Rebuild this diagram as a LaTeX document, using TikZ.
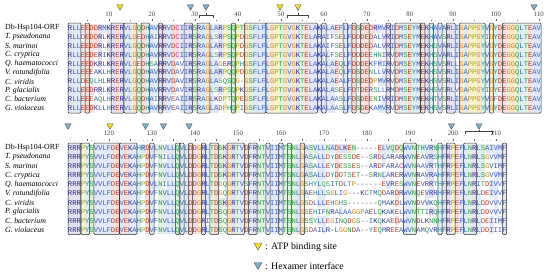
\documentclass[tikz,border=0pt]{standalone}
\usepackage{fontspec}
\setmainfont{Liberation Serif}
\newfontfamily\resfont{Liberation Mono}
\definecolor{tHyd}{HTML}{3F5FBF}\definecolor{bHyd}{HTML}{E0EAF8}
\definecolor{tPos}{HTML}{2E2A8E}\definecolor{bPos}{HTML}{E3E2F5}
\definecolor{tNeg}{HTML}{B83A22}\definecolor{bNeg}{HTML}{F8E0DC}
\definecolor{tGly}{HTML}{D98A1C}\definecolor{bGly}{HTML}{FBEACB}
\definecolor{tPro}{HTML}{A99C10}\definecolor{bPro}{HTML}{F7F4CC}
\definecolor{tPol}{HTML}{2F9B45}\definecolor{bPol}{HTML}{E1F4E0}
\definecolor{tAro}{HTML}{1E8E95}\definecolor{bAro}{HTML}{DAF2F2}
\definecolor{tCys}{HTML}{C8408A}\definecolor{bCys}{HTML}{F8DFEC}
\definecolor{tGap}{HTML}{666666}\definecolor{bGap}{HTML}{FFFFFF}
\definecolor{atpyel}{HTML}{F2E11C}
\definecolor{hexcyan}{HTML}{7DAFC9}
\makeatletter
\@namedef{grp@A}{Hyd}\@namedef{grp@V}{Hyd}\@namedef{grp@L}{Hyd}\@namedef{grp@I}{Hyd}
\@namedef{grp@M}{Hyd}\@namedef{grp@F}{Hyd}\@namedef{grp@W}{Hyd}\@namedef{grp@C}{Cys}
\@namedef{grp@K}{Pos}\@namedef{grp@R}{Pos}
\@namedef{grp@D}{Neg}\@namedef{grp@E}{Neg}
\@namedef{grp@G}{Gly}\@namedef{grp@P}{Pro}
\@namedef{grp@S}{Pol}\@namedef{grp@T}{Pol}\@namedef{grp@N}{Pol}\@namedef{grp@Q}{Pol}
\@namedef{grp@H}{Aro}\@namedef{grp@Y}{Aro}
\@namedef{grp@-}{Gap}
\newcount\colc
\def\gap@ch{-}
\def\drawseq#1#2#3#4{\colc=#1\relax\def\cur@start{#1}\def\cur@y{#2}\def\cur@row{#3}\drawseq@i#4\relax}
\def\drawseq@i#1{\ifx\relax#1\else\placeres{#1}\advance\colc by 1\relax\expandafter\drawseq@i\fi}
\def\placeres#1{%
  \pgfmathsetmacro\rx{68+(\the\colc-\cur@start+0.5)*4.3}%
  \edef\rg{\csname grp@#1\endcsname}%
  \ifnum\cur@row=1\relax\expandafter\xdef\csname ref@\the\colc\endcsname{#1}\fi
  \def\tmp@ch{#1}%
  \expandafter\ifx\csname ref@\the\colc\endcsname\tmp@ch
    \ifx\tmp@ch\gap@ch\else
      \fill[b\rg] (\rx-2.2,\cur@y-4.5) rectangle (\rx+2.2,\cur@y+4.5);%
    \fi
  \fi
  \node[res,text=t\rg] (r\cur@row-\the\colc) at (\rx,\cur@y) {#1};%
}
\makeatother
\newcommand\marktri[3]{\draw[trist,fill=#3] (#1-3.2,#2-2.8) -- (#1+3.2,#2-2.8) -- (#1,#2+2.8) -- cycle;}
\newcommand\markbrk[4]{\draw[brk] (#1-#2,#3+2.6) -- (#1-#2,#3) -- (#1+#2,#3) -- (#1+#2,#3+2.6); \draw[brk] (#1,#3) -- (#1,#4);}
\begin{document}
\begin{tikzpicture}[x=1pt,y=-1pt]
\useasboundingbox (0,0) rectangle (550,276);
\tikzset{
 res/.style={inner sep=0pt, text height=4.9pt, text depth=0pt, anchor=center, font=\resfont\fontsize{7.2}{7.2}\selectfont},
 namest/.style={anchor=west, inner sep=0pt, font=\fontsize{7.8}{8}\selectfont},
 numst/.style={inner sep=0pt, font=\fontsize{6.8}{7}\selectfont, text=black!75},
 consbox/.style={draw=black!85, line width=0.5pt, rounded corners=1.1pt},
 rulerst/.style={draw=black!60, line width=0.35pt},
 trist/.style={draw=black!65, line width=0.4pt, line join=round},
 brk/.style={draw=black!75, line width=0.45pt},
 legst/.style={anchor=west, inner sep=0pt, font=\fontsize{9.8}{10}\selectfont},
}
% ---------------- block 1 ----------------
\drawseq{1}{28}{1}{RLLEEDDRMK RERVLGQDHA VRRVDCIIRS RAGLARPSQP TGSFLFLGPT GVGKTELAKA LAEFLFDSDE DRMVRIDMSE YMEKHAVARL IGAPPGYVGY DEGGQLTEAV}
\drawseq{1}{36.9}{2}{RLLDEDDRLK RERVLGEDHA IRRVDCIIRS RAGLSRPSQP DGSFLFLGPT GVGKTELARA IFSELFDDDE DALVRIDMSE YMEKHAVSRL IGAPPGYIGY DEGGQLTEAV}
\drawseq{1}{45.8}{3}{RLLEEDDRLK RERVLGQDHA VRRVDCIIRS RAGLARPSQP DGSFLFLGPT GVGKTELAKA IFSELFDDDE DALVRIDMSE YMEKHSVARL IGAPPGYVGY DEGGQLTEAV}
\drawseq{1}{54.7}{4}{RLLEEDERIK RERVLGQDHA VRRVDCIIRS RAGLSRPSQP DGSFLFLGPT GVGKTELAKA LFSELFDDDE EHNIRVDMSE YMEKHSVARL IGAPPGYVGY DEGGQLTEAV}
\drawseq{1}{63.6}{5}{RLLEEDKRLK RERVLGEDHS ARRVDAVIRS RAGLAGERQP HGSFLFLGPT GVGKTELAKA LAEQLFDDDE KFMIRVDMSE YMEKHSVSRL LGAPPGYVGY DEGGQLTEAV}
\drawseq{1}{72.5}{6}{RLLEEEAKLH RERVLGQDHA VRRVDAVIRS RAGLARPQQP DGSFLFLGPT GVGKTELAKA LAEQLFDSDE NLLVRVDMSE YMEKHSVSRL IGAPPGYVGY DEGGQLTEAV}
\drawseq{1}{81.4}{7}{RLLDEQLHLR RERVLGQDHA VRRVDAVIRS RAGLASQSQG -GSFLFLGPT GVGKTELAKA LAEALFDSDE DPMVRVDMSE YMEKHSVSRL IGAPPGYVGY DEGGQLTEAV}
\drawseq{1}{90.3}{8}{RLLEEDRRLK RERVLGQDHA VRRVDAVIRS RAGLSRPSQP KGSFLFLGPT GVGKTELAKA LASELFDTDE RSLLRMDMSE YMEKHSVSRL VGAPPGYIGY EEGGQLTEAV}
\drawseq{1}{99.2}{9}{RLLEEEAQLH RERVLGQDHA IRRVEAIIRS RAGLKDPTQP EGSFLFLGPT GVGKTELAKA LAASLFDSDE ENIVRIDMSE YMEKHTVSRL IGAPPGYVGF DEGGQLTEAV}
\drawseq{1}{108.1}{10}{RLLEEDKLLH RERVLGQDHA VRRVEAIIRS RAGLADPHQP IGSFLFLGPT GVGKTELAKA LAASLFDSDE KAMVRVDMSE YMEKHSVSRL IGAPPGYVGY DEGGQLTEAV}
% ---------------- block 2 ----------------
\drawseq{111}{148}{1}{RRRPYSVVLF DEVEKAHRDV LNVLLQVLDD GRLTDSKGRT VDFRNTVIIM TSNLGASVLL NADLKEN--- --ELVQDQWV NTHVRNHFRP EFLNRLSAIV MF}
\drawseq{111}{157.1}{2}{RRRPYSVVLF DEVEKAHPDV FNILLQVLDD GRLTDSKGRT VDFRNTVIIM TSNLGASALL DYDESSDE-- SRDLARARWV NEAVRSHFRP EFLNRLSGVV MF}
\drawseq{111}{166.2}{3}{RRRPYSVVLF DEVEKAHPDV FNVLLQVLDD GRLTDSKGRT VDFRNTVIIM TSNLGASALL EYDESSES-- ARDFARACWV NAAVRTHFRP EFLNRLSGVI MF}
\drawseq{111}{175.3}{4}{RRRPYSVVLF DEVEKAHPDV FNVLLQVLDD GRLTDSKGRT VDFRNTVIIM TSNLGASALL DYDDTSET-- SRNLARERWV NRAVRAHFRP EFLNRLSGVV MF}
\drawseq{111}{184.4}{5}{RRRPYSVVLF DEVEKAHPDV LNILLQVLDD GRLTDGQGRT VSFRNTVIIM TSNLGSHYLQ SITDLTP--- ---EVRESWV NEVRRTHFRP EFLNRITDIV VF}
\drawseq{111}{193.5}{6}{RRRPYSVVLF DEVEKAHPDV FNVLLQVLDD GRLTDGQGRT VDFRNTVIIM TSNLGAEHLL SGLIG---KC TMQDARDRWV NQEVRRHFRP EFLNRLDEIV VF}
\drawseq{111}{202.6}{7}{RRRPYSVVLF DEVEKAHPDV FNVLLQVLDD GRLTDSKGRT VDFRNTVIIM TSNLGSDLLL EHGHS----- --QMAKDLWV NDVVKQHFRP EFLNRLDDVV VF}
\drawseq{111}{211.7}{8}{RRRPYSVVLF DEVEKAHPDV FNVLLQVLDD GRLTDSQGRT VDFRNTVIIM TSNLGSEHIF NRALAAGGPA ELQKAKELWV NTTIRQHFRP EFLNRLDDVV VF}
\drawseq{111}{220.8}{9}{RRRPYSVVLF DEVEKAHPDV FNVLLQVLDD GRITDSQGRT VDFRNTVIIM TSNLGSSYLL EGINQDGS-- IKQKAEDAWV NDLKNNHFRP EFLNRLDEII MF}
\drawseq{111}{229.9}{10}{RRRPYSVVLF DEVEKAHPDV FNVLLQVLDD GRLTDSQGRT VDFRNTVIIM TSNLGSDAIL R-LGGNDA-- YEQMREEAWV NAMQVRHFRP EFLNRLDDII IF}
% ---------------- conservation boxes ----------------
\foreach \a/\b in {1/3,5/5,11/13,14/16,18/19,22/22,28/29,31/33,39/39,42/46,47/58,60/60,65/65,67/67,69/70,75/75,77/82,83/83,85/85,87/87,89/90,92/97,99/99,102/110}
  \draw[consbox] ({68+(\a-1)*4.3},23) rectangle ({68+\b*4.3},113);
\foreach \a/\b in {111/113,114/115,117/122,123/126,130/130,136/136,137/137,139/139,142/142,144/145,148/151,153/154,157/157,160/160,162/162,165/165,189/191,197/197,199/200,203/205,212/212}
  \draw[consbox] ({68+(\a-111)*4.3},143) rectangle ({68+(\b-110)*4.3},234.5);
% ---------------- rulers and numbers ----------------
\foreach \c in {1,...,110} \fill[black!55] ({68+(\c-0.5)*4.3},20.8) circle (0.3);
\foreach \c in {5,15,...,105} \draw[rulerst] ({68+(\c-0.5)*4.3},19.6) -- ++(0,1.8);
\foreach \c in {10,20,...,110} {
  \draw[rulerst] ({68+(\c-0.5)*4.3},18.8) -- ++(0,2.6);
  \node[numst] (num-\c) at ({68+(\c-0.5)*4.3},14) {\c};
}
\foreach \c in {111,...,212} \fill[black!55] ({68+(\c-110.5)*4.3},140.6) circle (0.3);
\foreach \c in {115,125,...,205} \draw[rulerst] ({68+(\c-110.5)*4.3},139.4) -- ++(0,1.8);
\foreach \c in {120,130,...,210} {
  \draw[rulerst] ({68+(\c-110.5)*4.3},138.6) -- ++(0,2.6);
  \node[numst] (num-\c) at ({68+(\c-110.5)*4.3},133.5) {\c};
}
% ---------------- names ----------------
\foreach \nm [count=\i] in {Db-Hsp104-ORF,{\itshape T. pseudonana},{\itshape S. marinoi},{\itshape C. cryptica},{\itshape Q. haematococci},{\itshape V. rotundifolia},{\itshape C. viridis},{\itshape P. glacialis},{\itshape C. bacterium},{\itshape G. violaceus}}{
  \node[namest] (na-\i) at (5,{28+(\i-1)*8.9}) {\nm};
  \node[namest] (nb-\i) at (5,{148+(\i-1)*9.1}) {\nm};
}
% ---------------- site markers ----------------
\marktri{120}{7.5}{atpyel}
\marktri{190.5}{7.5}{hexcyan}
\marktri{206}{7.5}{hexcyan}
\marktri{280}{7.5}{atpyel}
\marktri{298}{7.5}{atpyel}
\marktri{534}{7.5}{hexcyan}
\markbrk{206}{7}{15.5}{13}
\markbrk{298}{10.5}{15.5}{13}
\marktri{68}{126.5}{hexcyan}
\marktri{110}{126.5}{atpyel}
\marktri{145.5}{126.5}{hexcyan}
\marktri{163.5}{126.5}{hexcyan}
\marktri{189}{126.5}{hexcyan}
\marktri{451.5}{126.5}{hexcyan}
\marktri{479}{126.5}{hexcyan}
\markbrk{479}{13.5}{131}{129.5}
% ---------------- legend ----------------
\draw[trist,fill=atpyel] (254,243) -- (262,243) -- (258,250) -- cycle;
\draw[trist,fill=hexcyan] (254,262.5) -- (262,262.5) -- (258,269.5) -- cycle;
\node[legst] (lega) at (265,247) {: ATP binding site};
\node[legst] (legb) at (265,266.5) {: Hexamer interface};
\end{tikzpicture}
\end{document}
